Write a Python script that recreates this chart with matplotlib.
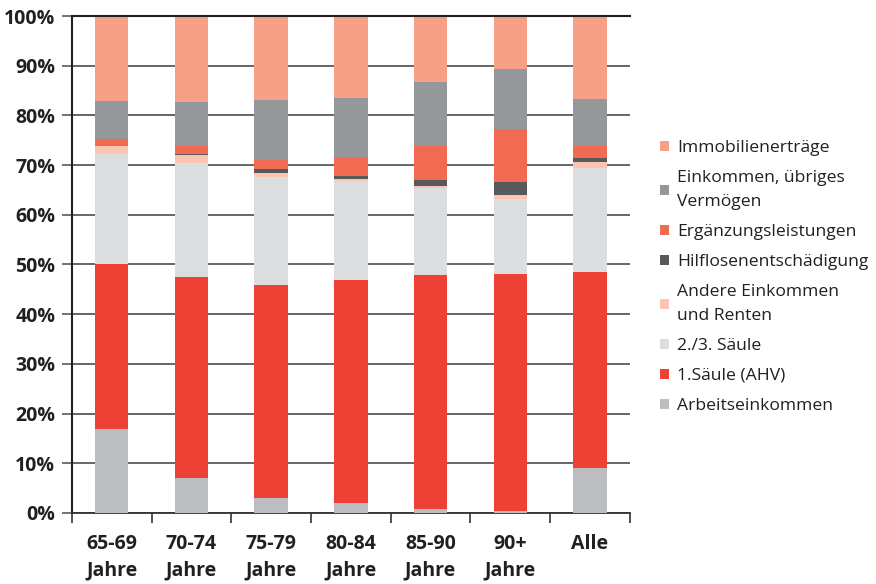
import numpy as np
import matplotlib
matplotlib.use('Agg')
import matplotlib.pyplot as plt
from matplotlib.patches import Patch
from matplotlib import rcParams

rcParams['font.family'] = ['Open Sans', 'DejaVu Sans']

# 数据（百分比，自下而上）
categories = ['65-69\nJahre', '70-74\nJahre', '75-79\nJahre', '80-84\nJahre',
              '85-90\nJahre', '90+\nJahre', 'Alle']
arbeit = [16.8, 7.1, 3.1, 2.1, 0.9, 0.3, 9.0]
ahv = [33.2, 40.3, 42.7, 44.7, 46.9, 47.7, 39.4]
saeule23 = [22.3, 23.1, 21.9, 19.9, 17.5, 15.2, 21.1]
andere = [1.6, 1.6, 0.8, 0.6, 0.4, 0.8, 1.2]
hilflos = [0.0, 0.2, 0.8, 0.6, 1.4, 2.5, 0.8]
el = [1.3, 1.6, 1.8, 3.5, 6.7, 10.7, 2.4]
einkommen = [7.6, 8.7, 11.9, 12.2, 12.9, 12.1, 9.5]
immobilien = [17.2, 17.4, 17.0, 16.4, 13.3, 10.7, 16.6]

series = [arbeit, ahv, saeule23, andere, hilflos, el, einkommen, immobilien]
labels = ['Arbeitseinkommen', '1.Säule (AHV)', '2./3. Säule', 'Andere Einkommen\nund Renten',
          'Hilflosenentschädigung', 'Ergänzungsleistungen', 'Einkommen, übriges\nVermögen',
          'Immobilienerträge']
colors = ['#bcbdc0', '#ee4035', '#dcddde', '#fbc5b2', '#58595b', '#f06b52', '#96979b', '#f7a088']

fig = plt.figure(figsize=(8.76, 5.84), dpi=100)
ax = fig.add_axes([0.082, 0.1216, 0.637, 0.851])

x = np.arange(len(categories))
bottom = np.zeros(len(categories))
for vals, c in zip(series, colors):
    ax.bar(x, vals, bottom=bottom, width=0.42, color=c, zorder=3)
    bottom += np.array(vals)

ax.set_xlim(-0.5, len(categories) - 0.5)
ax.set_ylim(0, 100)
ax.set_yticks(np.arange(0, 101, 10))
ax.set_yticklabels([f'{v}%' for v in range(0, 101, 10)], fontsize=14, fontweight='bold', color='#231f20')
ax.yaxis.grid(True, color='#5a5a5a', linewidth=1.3, zorder=0)
ax.set_axisbelow(True)

ax.set_xticks(x)
ax.set_xticklabels(categories, fontsize=14, fontweight='bold', color='#231f20', linespacing=1.45)
ax.tick_params(axis='x', length=0, pad=15)
ax.set_xticks(np.arange(-0.5, len(categories), 1), minor=True)
ax.tick_params(axis='x', which='minor', length=7, width=1.2, color='#333333', direction='out')
ax.tick_params(axis='y', length=7, width=1.2, color='#5a5a5a', direction='out', pad=5)

for s in ['right', 'top']:
    ax.spines[s].set_visible(False)
ax.spines['left'].set_color('#231f20')
ax.spines['left'].set_linewidth(1.5)
ax.spines['bottom'].set_color('#333333')
ax.spines['bottom'].set_linewidth(1.3)
ax.axhline(100, color='#231f20', linewidth=1.5, zorder=4, clip_on=False)

handles = [Patch(facecolor=c, edgecolor='none') for c in colors][::-1]
leg = fig.legend(handles, labels[::-1], loc='upper left', bbox_to_anchor=(0.736, 0.787),
                 frameon=False, fontsize=12.6, handlelength=0.5, handleheight=0.5,
                 handletextpad=0.45, labelspacing=0.8, labelcolor='#231f20')
for t in leg.get_texts():
    t.set_linespacing(1.65)

fig.savefig('out.png', dpi=100)
